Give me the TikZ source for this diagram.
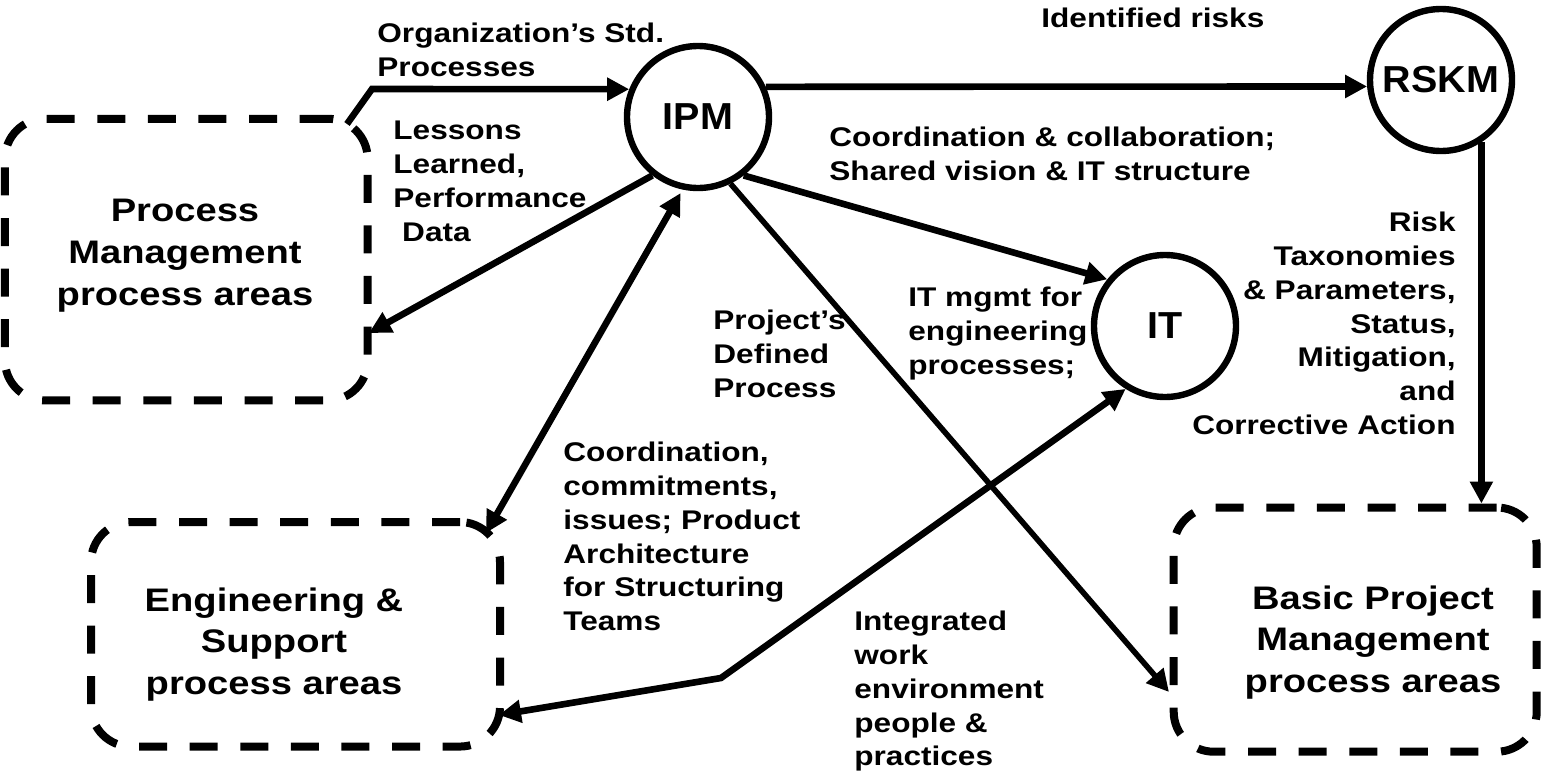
\documentclass[tikz,border=0pt]{standalone}
\usepackage{fontspec}
\newfontfamily\labf{Liberation Sans}[FakeStretch=1.17]
\newfontfamily\circf{Liberation Sans}[FakeStretch=1.05]
\usetikzlibrary{arrows.meta}
\begin{document}
\begin{tikzpicture}[x=0.5pt,y=-0.5pt,
  lbl/.style={font=\labf\bfseries\fontsize{13.5pt}{16.85pt}\selectfont, align=left, inner sep=0pt},
  bigt/.style={font=\labf\bfseries\fontsize{16.3pt}{20.8pt}\selectfont, align=center, inner sep=0pt},
  circ/.style={circle, draw, line width=3.2pt, minimum size=71pt, inner sep=0pt,
    font=\circf\bfseries\fontsize{18.8pt}{22pt}\selectfont},
  area/.style={draw, line width=4pt, rounded corners=20pt, dash pattern=on 14pt off 11.3pt, inner sep=0pt},
  conn/.style={line width=3.3pt, -{Triangle[length=11pt,width=11pt]}},
  conntwo/.style={line width=3.3pt, {Triangle[length=11pt,width=11pt]}-{Triangle[length=11pt,width=11pt]}},
]
\useasboundingbox (0,0) rectangle (1543,771);

% circles
\node[circ] (IPM) at (698,117) {IPM};
\node[circ] (RSKM) at (1441,80) {RSKM};
\node[circ] (IT) at (1165,326) {IT};

% dashed areas
\node[area, minimum width=181.35pt, minimum height=140.85pt] (PM) at (186.3,259.6) {};
\node[area, minimum width=204.5pt, minimum height=112.25pt] (ESP) at (295.5,634.3) {};
\node[area, minimum width=181.5pt, minimum height=122.1pt] (BPM) at (1355.2,629.6) {};

% area texts
\node[bigt, anchor=north] (PMt) at (185,199) {Process\\Management\\process areas};
\node[bigt, anchor=north] (ESPt) at (274,587) {Engineering \&\\Support\\process areas};
\node[bigt, anchor=north] (BPMt) at (1373,585) {Basic Project\\Management\\process areas};

% labels
\node[lbl, anchor=north west] (l1) at (377,23) {Organization’s Std.\\Processes};
\node[lbl, anchor=north west] (l2) at (393,121) {Lessons\\Learned,\\Performance\\\hspace*{4.4pt}Data};
\node[lbl, anchor=north west] (l3) at (1041,8) {Identified risks};
\node[lbl, anchor=north west] (l4) at (829,127) {Coordination \& collaboration;\\Shared vision \& IT structure};
\node[lbl, anchor=north west] (l5) at (713,310) {Project’s\\Defined\\Process};
\node[lbl, anchor=north west] (l6) at (908,287) {IT mgmt for\\engineering\\processes;};
\node[lbl, anchor=north west] (l7) at (563,442) {Coordination,\\commitments,\\issues; Product\\Architecture\\for Structuring\\Teams};
\node[lbl, anchor=north west] (l8) at (854,611) {Integrated\\work\\environment\\people \&\\practices};
\node[lbl, anchor=north east, align=right] (l9) at (1456,212) {Risk\\Taxonomies\\\& Parameters,\\Status,\\Mitigation,\\and\\Corrective Action};

% free ends
\coordinate (pmA) at (347,124);
\coordinate (bendA) at (372,89);
\coordinate (pmD) at (369,333);
\coordinate (espE) at (486,533);
\coordinate (espH) at (499,715);
\coordinate (bendH) at (721,678);
\coordinate (bpmF) at (1169,692);

% connectors
\draw[conn] (pmA) -- (bendA) -- (IPM.158);
\draw[conn] (IPM.24) -- (RSKM.185);
\draw[conn] (RSKM.-57) -- (RSKM.-57 |- BPM.north);
\draw[conn] (IPM.232) -- (pmD);
\draw[conntwo, shorten >=2pt] (espE) -- (IPM.258);
\draw[conn, line width=2.8pt] (IPM.-64) -- (bpmF);
\draw[conn] (IPM.-52) -- (IT.141);
\draw[conntwo] (espH) -- (bendH) -- (IT.238);
\end{tikzpicture}
\end{document}
